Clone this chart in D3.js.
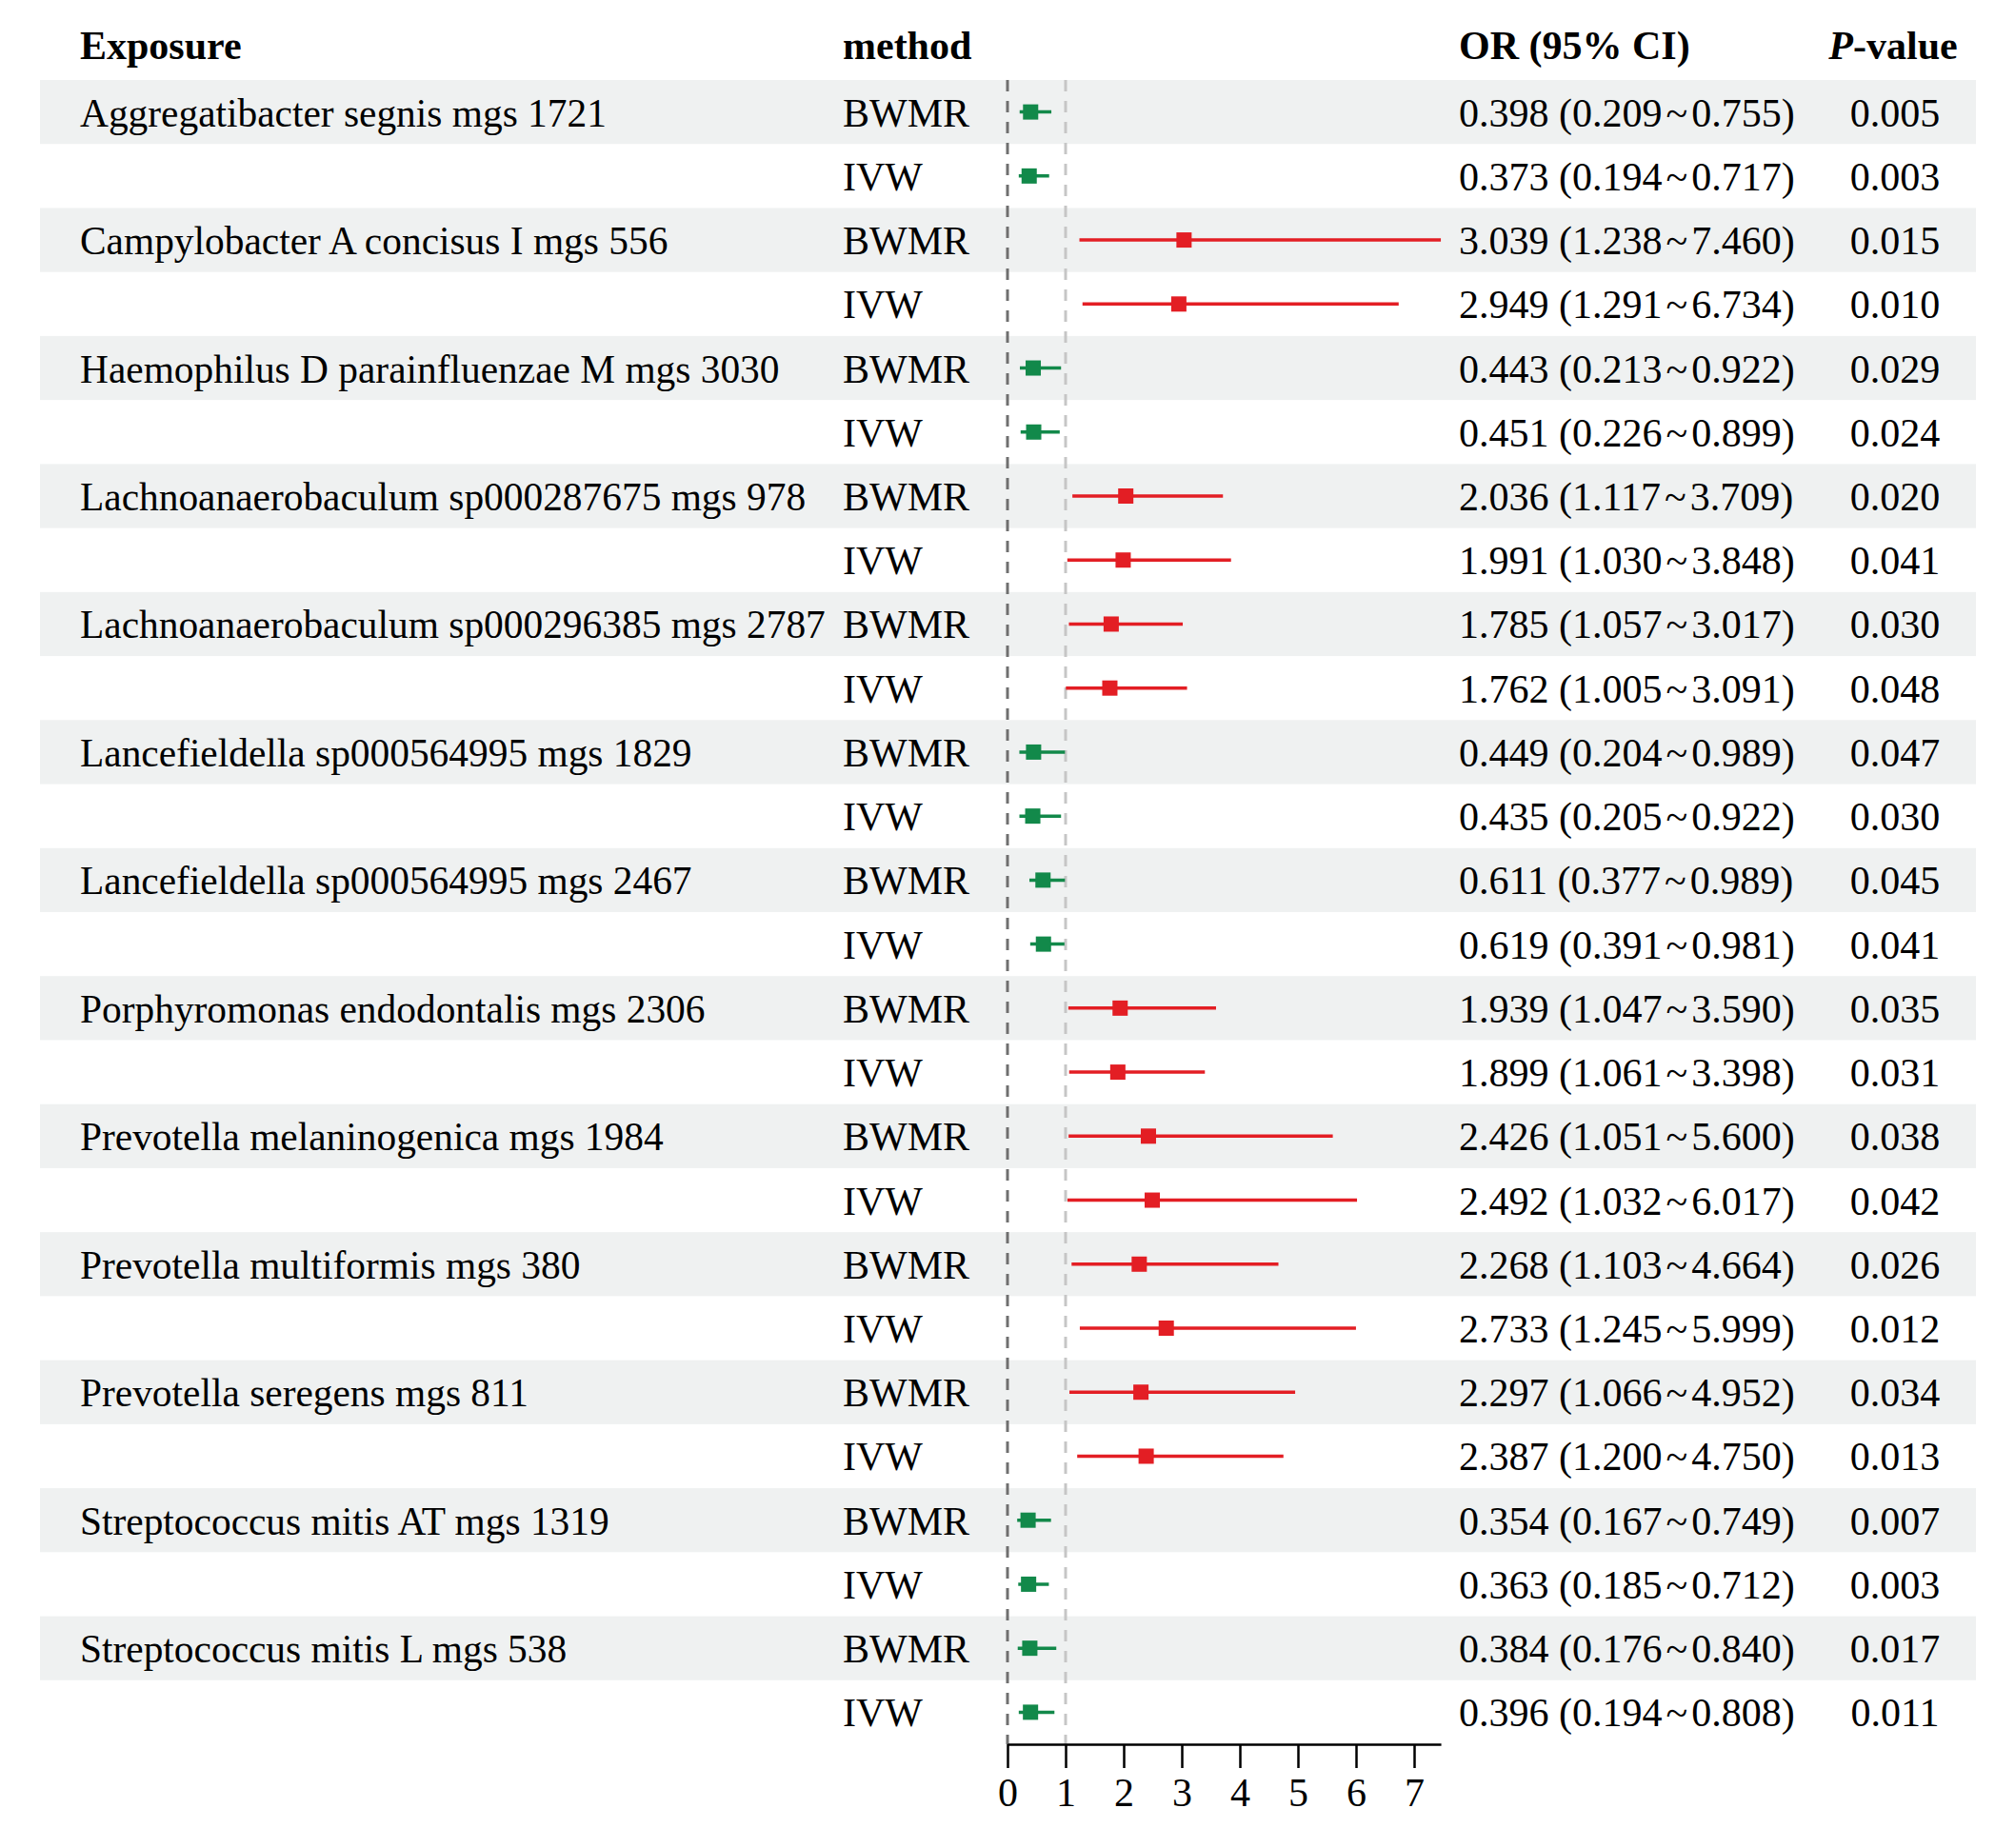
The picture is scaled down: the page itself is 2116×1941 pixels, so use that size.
<!DOCTYPE html>
<html>
<head>
<meta charset="utf-8">
<script src="https://cdn.jsdelivr.net/npm/d3@7"></script>
<style>
  body { margin: 0; background: #fff; }
  svg text { font-family: "Liberation Serif", "Times New Roman", serif; }
</style>
</head>
<body>
<div id="chart"></div>
<script>
// forest plot - OR with 95% CI per exposure / method

const exposures = [
    'Aggregatibacter segnis mgs 1721',
    'Campylobacter A concisus I mgs 556',
    'Haemophilus D parainfluenzae M mgs 3030',
    'Lachnoanaerobaculum sp000287675 mgs 978',
    'Lachnoanaerobaculum sp000296385 mgs 2787',
    'Lancefieldella sp000564995 mgs 1829',
    'Lancefieldella sp000564995 mgs 2467',
    'Porphyromonas endodontalis mgs 2306',
    'Prevotella melaninogenica mgs 1984',
    'Prevotella multiformis mgs 380',
    'Prevotella seregens mgs 811',
    'Streptococcus mitis AT mgs 1319',
    'Streptococcus mitis L mgs 538'
];
const methods = ['BWMR', 'IVW'];

// one pair (BWMR, IVW) per exposure
const orValues = [
    [0.398, 0.373], [3.039, 2.949], [0.443, 0.451], [2.036, 1.991],
    [1.785, 1.762], [0.449, 0.435], [0.611, 0.619], [1.939, 1.899],
    [2.426, 2.492], [2.268, 2.733], [2.297, 2.387], [0.354, 0.363],
    [0.384, 0.396]
];
const lowerCI = [
    [0.209, 0.194], [1.238, 1.291], [0.213, 0.226], [1.117, 1.030],
    [1.057, 1.005], [0.204, 0.205], [0.377, 0.391], [1.047, 1.061],
    [1.051, 1.032], [1.103, 1.245], [1.066, 1.200], [0.167, 0.185],
    [0.176, 0.194]
];
const upperCI = [
    [0.755, 0.717], [7.460, 6.734], [0.922, 0.899], [3.709, 3.848],
    [3.017, 3.091], [0.989, 0.922], [0.989, 0.981], [3.590, 3.398],
    [5.600, 6.017], [4.664, 5.999], [4.952, 4.750], [0.749, 0.712],
    [0.840, 0.808]
];
const pValues = [
    ['0.005', '0.003'], ['0.015', '0.010'], ['0.029', '0.024'], ['0.020', '0.041'],
    ['0.030', '0.048'], ['0.047', '0.030'], ['0.045', '0.041'], ['0.035', '0.031'],
    ['0.038', '0.042'], ['0.026', '0.012'], ['0.034', '0.013'], ['0.007', '0.003'],
    ['0.017', '0.011']
];
const xTicks = [0, 1, 2, 3, 4, 5, 6, 7];
const refLines = [0, 1];

const width = 2116, height = 1941;
const colors = { low: '#12894a', high: '#e31e24', band: '#eff1f1' };
const fontSize = 42;

// flatten into rows
const rows = [];
exposures.forEach((e, i) => {
    methods.forEach((m, j) => {
        rows.push({
            idx: rows.length,
            exposure: j === 0 ? e : '',
            method: m,
            or: orValues[i][j],
            lo: lowerCI[i][j],
            hi: upperCI[i][j],
            p: pValues[i][j]
        });
    });
});

const svg = d3.select('#chart').append('svg')
    .attr('width', width)
    .attr('height', height);

svg.append('rect').attr('width', width).attr('height', height).attr('fill', '#fff');

const y = d3.scaleBand()
    .domain(rows.map(d => d.idx))
    .range([84, 1832])
    .padding(0);

const xMax = d3.max(rows, d => d.hi);
const x = d3.scaleLinear()
    .domain([0, xMax])
    .range([1058, 1058 + 61 * xMax]);

const textY = d => y(d.idx) + y.bandwidth() / 2 + 15;

// shaded bands
svg.append('g').selectAll('rect')
    .data(rows.filter(d => d.idx % 2 === 0))
    .join('rect')
    .attr('x', 42)
    .attr('y', d => y(d.idx))
    .attr('width', 2075 - 42)
    .attr('height', y.bandwidth())
    .attr('fill', colors.band);

// header
const header = svg.append('g')
    .attr('font-size', fontSize)
    .attr('font-weight', 'bold');
header.append('text').attr('x', 84).attr('y', 62).text('Exposure');
header.append('text').attr('x', 885).attr('y', 62).text('method');
header.append('text').attr('x', 1532).attr('y', 62).text('OR (95% CI)');
const pHead = header.append('text').attr('x', 1988).attr('y', 62).attr('text-anchor', 'middle');
pHead.append('tspan').attr('font-style', 'italic').text('P');
pHead.append('tspan').text('-value');

// text columns
const body = svg.append('g').attr('font-size', fontSize).attr('fill', '#000');
body.selectAll('.exp')
    .data(rows.filter(d => d.exposure))
    .join('text')
    .attr('class', 'exp')
    .attr('x', 84)
    .attr('y', textY)
    .attr('font-size', 41.4)
    .text(d => d.exposure);

body.selectAll('.method')
    .data(rows)
    .join('text')
    .attr('class', 'method')
    .attr('x', 885)
    .attr('y', textY)
    .text(d => d.method);

const orText = body.selectAll('.orci')
    .data(rows)
    .join('text')
    .attr('class', 'orci')
    .attr('x', 1532)
    .attr('y', textY);
orText.append('tspan').text(d => `${d.or.toFixed(3)} (${d.lo.toFixed(3)}`);
orText.append('tspan').attr('dx', 4).text('~');
orText.append('tspan').attr('dx', 4).text(d => `${d.hi.toFixed(3)})`);

body.selectAll('.pval')
    .data(rows)
    .join('text')
    .attr('class', 'pval')
    .attr('x', 1990)
    .attr('y', textY)
    .attr('text-anchor', 'middle')
    .text(d => d.p);

// reference lines
svg.append('g').selectAll('line')
    .data(refLines)
    .join('line')
    .attr('x1', d => x(d))
    .attr('x2', d => x(d))
    .attr('y1', 84)
    .attr('y2', 1832)
    .attr('stroke', d => d === 0 ? '#6f6f6f' : '#c6c6c6')
    .attr('stroke-width', 3)
    .attr('stroke-dasharray', '12,10');

// CI lines and boxes
const marks = svg.append('g');
marks.selectAll('.ci')
    .data(rows)
    .join('line')
    .attr('class', 'ci')
    .attr('x1', d => x(d.lo))
    .attr('x2', d => x(d.hi))
    .attr('y1', d => y(d.idx) + y.bandwidth() / 2)
    .attr('y2', d => y(d.idx) + y.bandwidth() / 2)
    .attr('stroke', d => d.or < 1 ? colors.low : colors.high)
    .attr('stroke-width', 3.5);

const box = 16;
marks.selectAll('.box')
    .data(rows)
    .join('rect')
    .attr('class', 'box')
    .attr('x', d => x(d.or) - box / 2)
    .attr('y', d => y(d.idx) + y.bandwidth() / 2 - box / 2)
    .attr('width', box)
    .attr('height', box)
    .attr('fill', d => d.or < 1 ? colors.low : colors.high);

// x axis
const axis = d3.axisBottom(x)
    .tickValues(xTicks)
    .tickFormat(d3.format('d'))
    .tickSize(25)
    .tickSizeOuter(0)
    .tickPadding(10);

const ax = svg.append('g')
    .attr('transform', 'translate(0,1832)')
    .call(axis);
ax.select('.domain').attr('stroke', '#000').attr('stroke-width', 2.5);
ax.selectAll('.tick line').attr('stroke', '#000').attr('stroke-width', 2.5);
ax.selectAll('.tick text')
    .attr('font-family', '"Liberation Serif", "Times New Roman", serif')
    .attr('font-size', fontSize)
    .attr('fill', '#000');
</script>
</body>
</html>
